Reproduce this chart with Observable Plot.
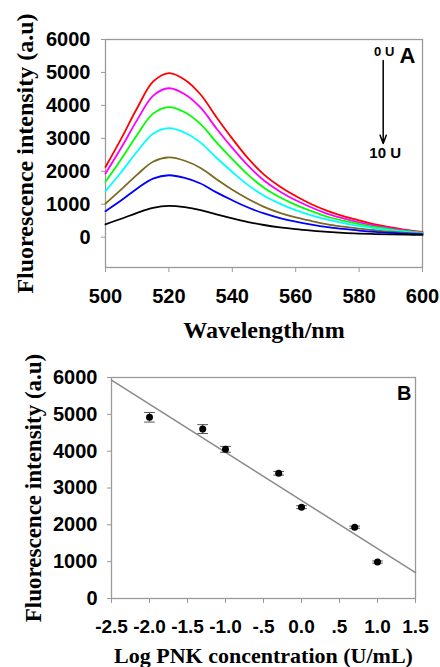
<!DOCTYPE html>
<html><head><meta charset="utf-8">
<script src="https://cdn.jsdelivr.net/npm/d3@7"></script>
<script src="https://cdn.jsdelivr.net/npm/@observablehq/plot@0.6"></script>
<style>
body{margin:0;background:#fff;}
#chart svg{display:block;}
</style></head><body><div id="chart"></div>
<script>
// ---------- Panel A data ----------
const wavelengths = [500,505,510,515,520,525,530,535,540,545,550,555,560,565,570,575,580,585,590,595,600];
const curveKeys = ["curve 1","curve 2","curve 3","curve 4","curve 5","curve 6","curve 7"];
const curveColors = ["#ff0000","#ff00ff","#00ff00","#00ffff","#7a6a22","#0000ff","#000000"];
const redCurve     = [2130,3000,3920,4720,4980,4780,4330,3640,2990,2390,1900,1540,1250,1000,800,640,510,390,300,220,160];
const magentaCurve = [1930,2720,3560,4290,4520,4340,3930,3300,2710,2170,1720,1390,1120,900,710,570,450,350,270,200,145];
const greenCurve   = [1680,2370,3110,3750,3950,3790,3430,2880,2370,1890,1500,1210,980,790,620,500,400,310,240,180,135];
const cyanCurve    = [1400,1980,2600,3140,3310,3170,2870,2410,1980,1580,1260,1020,820,660,530,430,340,270,210,160,125];
const oliveCurve   = [1020,1450,1900,2290,2420,2320,2100,1760,1440,1160,920,740,600,490,390,320,260,210,165,130,110];
const blueCurve    = [790,1120,1480,1780,1880,1800,1630,1360,1120,900,720,580,470,380,305,250,200,160,130,105,90];
const blackCurve   = [390,560,740,890,950,910,820,690,570,460,370,300,245,200,160,130,110,95,85,75,70];
const curves = [redCurve,magentaCurve,greenCurve,cyanCurve,oliveCurve,blueCurve,blackCurve];
const xTicksA = [500,520,540,560,580,600];
const yTicksA = [0,1000,2000,3000,4000,5000,6000];
const yDomainA = [-920,6000];
const arrowWl = [587.6];
const arrowFrom = [5360];
const arrowTo = [2840];
const labelTop = "0 U";
const labelBottom = "10 U";

// ---------- Panel B data ----------
const logConc = [-2.0,-1.3,-1.0,-0.3,0.0,0.7,1.0];
const intensity = [4920,4600,4050,3400,2480,1935,990];
const errors = [130,120,80,50,40,30,30];
const fitX = [-2.5,1.5];
const fitY = [5930,700];
const logTicks = [-2.5,-2.0,-1.5,-1.0,-0.5,0.0,0.5,1.0,1.5];
const logTickLabels = ["-2.5","-2.0","-1.5","-1.0","-.5","0.0",".5","1.0","1.5"];
const yTicksB = [0,1000,2000,3000,4000,5000,6000];

const sans = "Arial, 'Liberation Sans', sans-serif";
const serif = "'Times New Roman', 'Liberation Serif', serif";

const spectra = [];
curves.forEach((c, k) => c.forEach((v, i) => spectra.push({wl: wavelengths[i], v, key: curveKeys[k]})));

const panelA = Plot.plot({
  width: 440, height: 340,
  marginLeft: 105, marginRight: 18, marginTop: 39, marginBottom: 73,
  x: {domain: [500, 600]},
  y: {domain: yDomainA},
  color: {type: "ordinal", domain: curveKeys, range: curveColors},
  style: {background: "white", overflow: "visible"},
  marks: [
    Plot.frame({stroke: "#9a9a9a", strokeWidth: 1.3}),
    Plot.axisX({ticks: xTicksA, tickSize: 5, tickPadding: 16, stroke: "#9a9a9a", fill: "#000",
      fontSize: 20, fontWeight: "bold", fontFamily: sans, tickFormat: d => String(d), label: null}),
    Plot.axisY({ticks: yTicksA, tickSize: 4, tickPadding: 11, stroke: "#9a9a9a", fill: "#000",
      fontSize: 20, fontWeight: "bold", fontFamily: sans, tickFormat: d => String(d), label: null}),
    Plot.line(spectra, {x: "wl", y: "v", z: "key", stroke: "key", strokeWidth: 1.8, curve: "catmull-rom"}),
    Plot.arrow(arrowWl, {x1: d => d, x2: d => d, y1: (d, i) => arrowFrom[i], y2: (d, i) => arrowTo[i],
      stroke: "#000", strokeWidth: 1.5, headLength: 9, headAngle: 40}),
    Plot.text([labelTop], {x: arrowWl[0], y: arrowFrom[0], text: d => d, dy: -9, dx: 1, fontSize: 13, fontWeight: "bold", fontFamily: sans}),
    Plot.text([labelBottom], {x: arrowWl[0], y: arrowTo[0], text: d => d, dy: 10, dx: 2, fontSize: 15, fontWeight: "bold", fontFamily: sans}),
    Plot.text(["A"], {frameAnchor: "top-right", text: d => d, dx: -7, dy: 16, lineAnchor: "middle", textAnchor: "end", fontSize: 22, fontWeight: "bold", fontFamily: sans}),
    Plot.text(["Wavelength/nm"], {frameAnchor: "bottom", text: d => d, dy: 63, lineAnchor: "middle", fontSize: 24, fontWeight: "bold", fontFamily: serif}),
    Plot.text(["Fluorescence intensity (a.u)"], {frameAnchor: "left", text: d => d, dx: -80, rotate: -90, lineAnchor: "middle", textAnchor: "middle", fontSize: 24, fontWeight: "bold", fontFamily: serif})
  ]
});

const points = logConc.map((x, i) => ({x, y: intensity[i], e: errors[i]}));
const fit = fitX.map((x, i) => ({x, y: fitY[i]}));
const capSymbol = {draw(ctx, size) { const w = Math.sqrt(size); ctx.moveTo(-w, 0); ctx.lineTo(w, 0); }};

const panelB = Plot.plot({
  width: 440, height: 327,
  marginLeft: 111, marginRight: 25, marginTop: 37, marginBottom: 69,
  x: {domain: [-2.5, 1.5]},
  y: {domain: [0, 6000]},
  style: {background: "white", overflow: "visible"},
  marks: [
    Plot.frame({stroke: "#9a9a9a", strokeWidth: 1.3}),
    Plot.axisX({ticks: logTicks, tickSize: 5, tickPadding: 16, stroke: "#9a9a9a", fill: "#000",
      fontSize: 19, fontWeight: "bold", fontFamily: sans, tickFormat: d => logTickLabels[logTicks.indexOf(d)], label: null}),
    Plot.axisY({ticks: yTicksB, tickSize: 4, tickPadding: 10, stroke: "#9a9a9a", fill: "#000",
      fontSize: 20, fontWeight: "bold", fontFamily: sans, tickFormat: d => String(d), label: null}),
    Plot.line(fit, {x: "x", y: "y", stroke: "#8a8a8a", strokeWidth: 1.5}),
    Plot.ruleX(points, {x: "x", y1: d => d.y - d.e, y2: d => d.y + d.e, stroke: "#555", strokeWidth: 1}),
    Plot.dot(points, {x: "x", y: d => d.y + d.e, symbol: capSymbol, r: 3, stroke: "#555", strokeWidth: 1, fill: "none"}),
    Plot.dot(points, {x: "x", y: d => d.y - d.e, symbol: capSymbol, r: 3, stroke: "#555", strokeWidth: 1, fill: "none"}),
    Plot.dot(points, {x: "x", y: "y", r: 3.5, fill: "#000", stroke: "none"}),
    Plot.text(["B"], {frameAnchor: "top-right", text: d => d, dx: -4, dy: 16, lineAnchor: "middle", textAnchor: "end", fontSize: 20, fontWeight: "bold", fontFamily: sans}),
    Plot.text(["Log PNK concentration (U/mL)"], {frameAnchor: "bottom", text: d => d, dy: 57, lineAnchor: "middle", fontSize: 22, fontWeight: "bold", fontFamily: serif}),
    Plot.text(["Fluorescence intensity (a.u)"], {frameAnchor: "left", text: d => d, dx: -78, rotate: -90, lineAnchor: "middle", textAnchor: "middle", fontSize: 23, fontWeight: "bold", fontFamily: serif})
  ]
});

const root = document.getElementById("chart");
root.appendChild(panelA);
root.appendChild(panelB);
</script>
</body></html>
